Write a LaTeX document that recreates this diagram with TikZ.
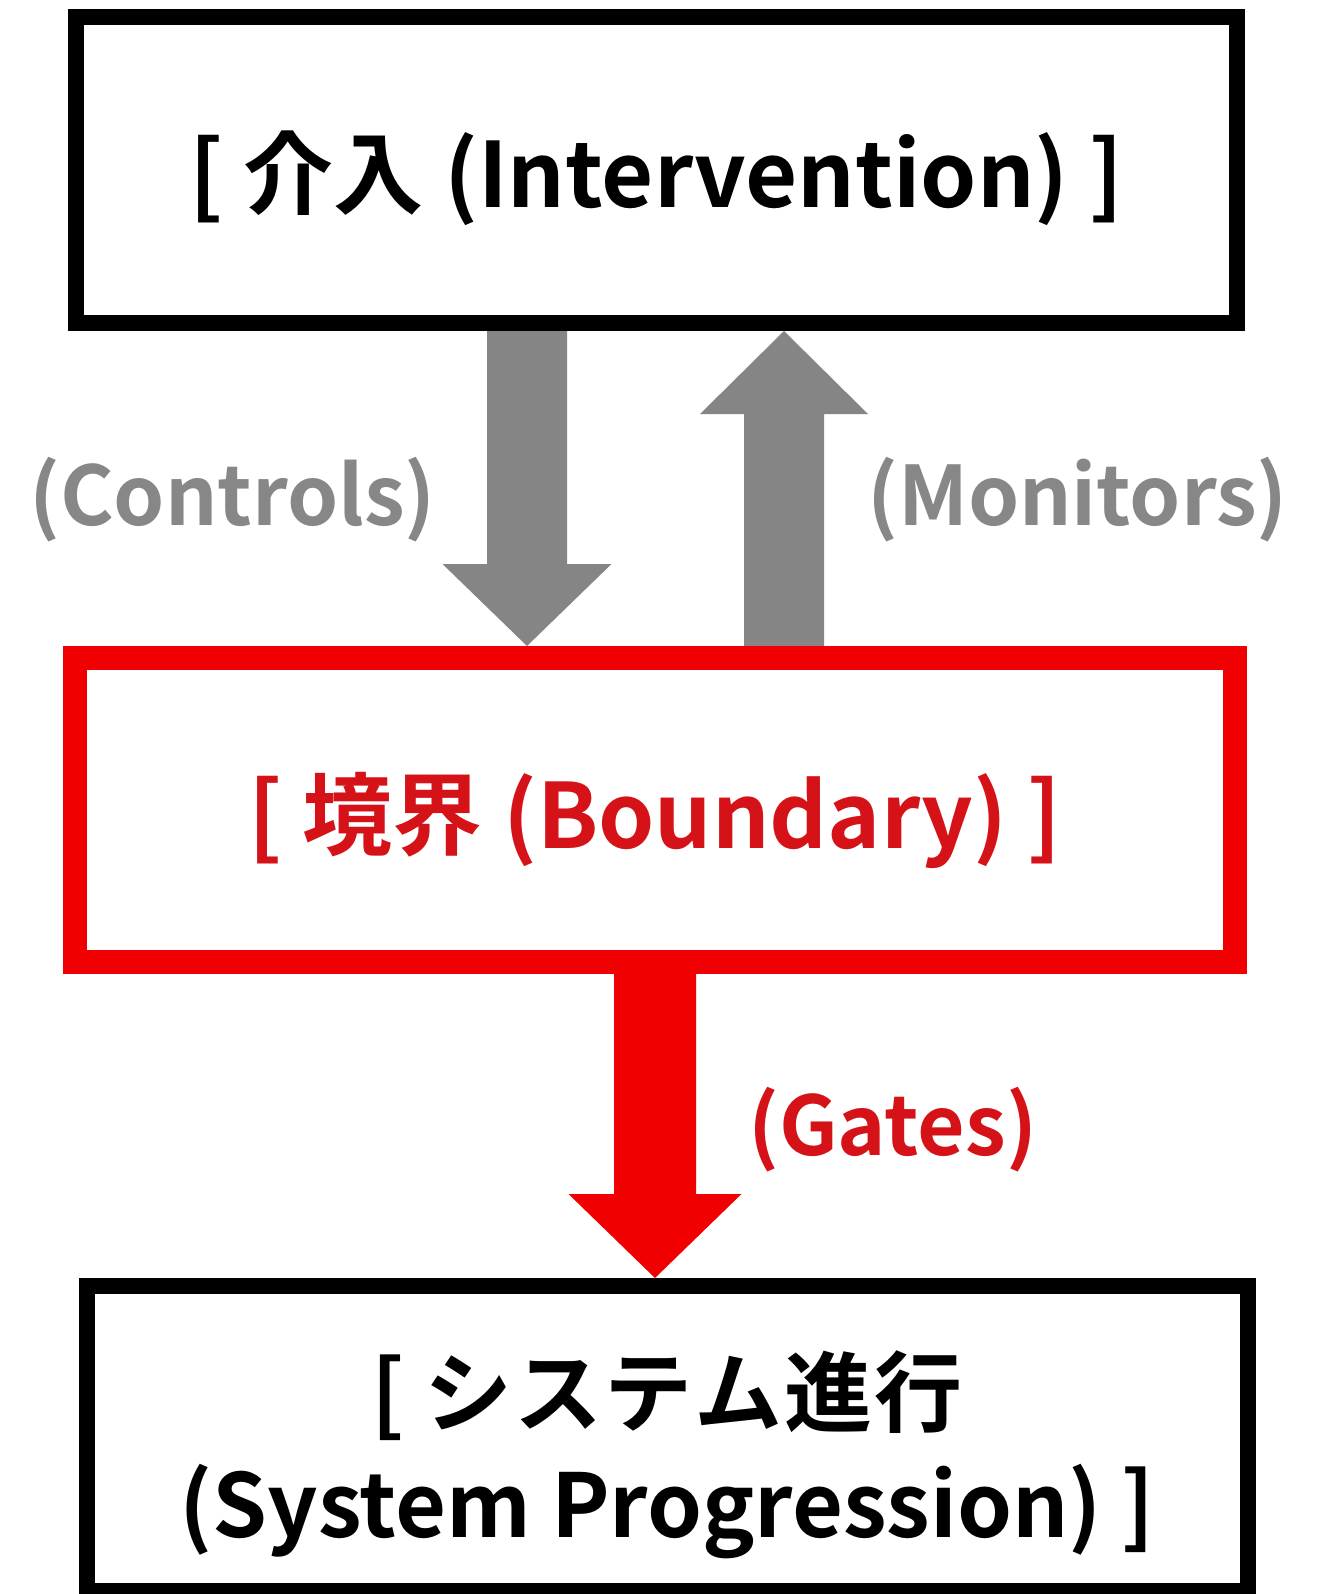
\documentclass[tikz,border=0pt]{standalone}
\usepackage{fontspec}
\newfontfamily\jp{Noto Sans CJK JP}[BoldFont={Noto Sans CJK JP Bold}]
\usetikzlibrary{calc}
\definecolor{arrowgray}{HTML}{858585}
\definecolor{labelgray}{HTML}{878787}
\definecolor{boxred}{HTML}{F00000}
\definecolor{textred}{HTML}{D51218}
\tikzset{
  box/.style={draw, rectangle, inner sep=0pt, align=center, text height=76pt, text depth=0pt},
  blackbox/.style={box, draw=black, line width=16pt},
  redbox/.style={box, draw=boxred, line width=24pt, text=textred},
  lbl/.style={anchor=base, inner sep=0pt, font={\jp\bfseries\fontsize{82}{100}\selectfont}},
}
\begin{document}
\begin{tikzpicture}[x=1pt,y=-1pt]
\useasboundingbox (0,0) rectangle (1323,1594);
\fill[white] (0,0) rectangle (1323,1594);
\clip (0,0) rectangle (1323,1594);

\node[blackbox, minimum width=1161.5pt, minimum height=306pt,
      font={\jp\bfseries\fontsize{90}{110}\selectfont}] (top) at (656.25,170)
      {[ 介入 (Intervention) ]};
\node[redbox, minimum width=1160pt, minimum height=304pt,
      font={\jp\bfseries\fontsize{90}{105}\selectfont}] (bnd) at (655,810)
      {[ 境界 (Boundary) ]};
\node[blackbox, minimum width=1161.5pt, minimum height=305pt, text height=197pt, text depth=0pt,
      font={\jp\bfseries\fontsize{88}{112}\selectfont}] (bot) at (667.25,1438.5)
      {[ シ\kern2ptス\kern2ptテ\kern2ptム\kern2pt進\kern2pt行\\(System Progression) ]};

\coordinate (xd) at (527,0);
\coordinate (xu) at (784,0);
\coordinate (xr) at (655,0);

% Controls: down arrow
\fill[arrowgray] let \p1=(top.south -| xd), \p2=(bnd.north -| xd) in
  (\x1-40pt,\y1) -- (\x1+40pt,\y1) -- (\x1+40pt,\y2+82pt) -- (\x1+84.5pt,\y2+82pt)
  -- (\x2,\y2) -- (\x1-84.5pt,\y2+82pt) -- (\x1-40pt,\y2+82pt) -- cycle;
% Monitors: up arrow
\fill[arrowgray] let \p1=(bnd.north -| xu), \p2=(top.south -| xu) in
  (\x1-40pt,\y1) -- (\x1+40pt,\y1) -- (\x1+40pt,\y2-83pt) -- (\x1+84pt,\y2-83pt)
  -- (\x2,\y2) -- (\x1-84pt,\y2-83pt) -- (\x1-40pt,\y2-83pt) -- cycle;
% Gates: red down arrow
\fill[boxred] let \p1=(bnd.south -| xr), \p2=(bot.north -| xr) in
  (\x1-41pt,\y1) -- (\x1+41pt,\y1) -- (\x1+41pt,\y2+84pt) -- (\x1+86.5pt,\y2+84pt)
  -- (\x2,\y2) -- (\x1-86.5pt,\y2+84pt) -- (\x1-41pt,\y2+84pt) -- cycle;

% redraw borders on top
\node[blackbox, minimum width=1161.5pt, minimum height=306pt] at (top.center) {};
\node[redbox, minimum width=1160pt, minimum height=304pt] at (bnd.center) {};

\node[lbl, text=labelgray] (lc) at (232.5,525) {(Controls)};
\node[lbl, text=labelgray] (lm) at (1077.5,525) {(Monitors)};
\node[lbl, text=textred] (lg) at (892.5,1155) {(Gates)};
\end{tikzpicture}
\end{document}
